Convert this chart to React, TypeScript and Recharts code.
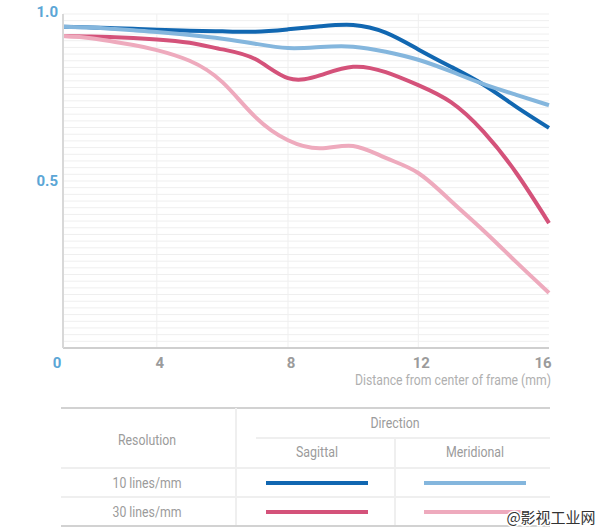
import React from 'react';
import { LineChart, Line, XAxis, YAxis, CartesianGrid, ReferenceLine } from 'recharts';

// distance from centre of frame (mm) and MTF contrast
const distances = [0, 1, 2, 3, 4, 5, 6, 7, 8, 9, 10, 11, 12, 13, 14, 15, 16];
const sagittal10 = [0.962, 0.960, 0.958, 0.956, 0.953, 0.950, 0.948, 0.947, 0.954, 0.963, 0.967, 0.944, 0.894, 0.842, 0.788, 0.722, 0.659];
const meridional10 = [0.962, 0.960, 0.956, 0.951, 0.946, 0.937, 0.926, 0.911, 0.898, 0.901, 0.902, 0.887, 0.863, 0.828, 0.790, 0.758, 0.727];
const sagittal30 = [0.934, 0.933, 0.931, 0.928, 0.924, 0.914, 0.894, 0.865, 0.808, 0.817, 0.842, 0.826, 0.787, 0.736, 0.647, 0.524, 0.374];
const meridional30 = [0.934, 0.929, 0.919, 0.907, 0.892, 0.860, 0.796, 0.692, 0.622, 0.598, 0.605, 0.569, 0.524, 0.44, 0.351, 0.257, 0.165];

const xTicks = [0, 4, 8, 12, 16];
const yTicks = [0.5, 1.0];
const resolutions = ['10 lines/mm', '30 lines/mm'];
const directions = ['Sagittal', 'Meridional'];

const series = [
  { key: 's10', values: sagittal10, color: '#1167b1' },
  { key: 'm10', values: meridional10, color: '#84b6dd' },
  { key: 's30', values: sagittal30, color: '#d4527a' },
  { key: 'm30', values: meridional30, color: '#eeaabd' },
];

const data = distances.map((d, i) => {
  const row: Record<string, number> = { d };
  series.forEach(s => { row[s.key] = s.values[i]; });
  return row;
});

// the printed axis is not evenly spaced: where each tick sits along the axis (0..1)
const tickStops = [0, 0.193, 0.463, 0.731, 1];

function warpScale(dom: number[] = [0, 16], rng: number[] = [0, 1]): any {
  let domain = dom.slice();
  let range = rng.slice();
  const scale: any = (v: number) => {
    let i = 0;
    while (i < xTicks.length - 2 && v > xTicks[i + 1]) i++;
    const t = (v - xTicks[i]) / (xTicks[i + 1] - xTicks[i]);
    const f = tickStops[i] + t * (tickStops[i + 1] - tickStops[i]);
    return range[0] + f * (range[1] - range[0]);
  };
  scale.domain = (d?: number[]) => {
    if (d === undefined) return domain.slice();
    domain = d.slice();
    return scale;
  };
  scale.range = (r?: number[]) => {
    if (r === undefined) return range.slice();
    range = r.slice();
    return scale;
  };
  scale.copy = () => warpScale(domain, range);
  scale.ticks = () => xTicks.slice();
  scale.tickFormat = () => (v: number) => String(v);
  return scale;
}

// fine horizontal rules every 0.02
const gridRows: number[] = [];
for (let v = 0.02; v <= 1.0001; v += 0.02) gridRows.push(Math.round(v * 100) / 100);

const FONT = 'Roboto, "Liberation Sans", sans-serif';
const GRAY = '#9b9b9b';
const BLUE = '#5ba6d6';

const XTick = (props: any) => {
  const { x, y, payload } = props;
  const v = payload.value;
  return (
    <text x={x + (v === 0 ? -6 : v === 16 ? -6 : 3)} y={y + 12} textAnchor="middle"
      fill={v === 0 ? BLUE : GRAY} fontSize={15} fontWeight="bold" fontFamily={FONT}>
      {v}
    </text>
  );
};

const YTick = (props: any) => {
  const { y, payload } = props;
  return (
    <text x={58} y={y + (payload.value === 1 ? 3 : 5)} textAnchor="end"
      fill={BLUE} fontSize={15} fontWeight="bold" fontFamily={FONT}>
      {payload.value.toFixed(1)}
    </text>
  );
};

const XLabel = (props: any) => {
  const { viewBox } = props;
  return (
    <text x={viewBox.x + viewBox.width + 2} y={viewBox.y + 37} textAnchor="end"
      fill="#b0b0b0" fontSize={14} fontFamily={FONT} textLength={196} lengthAdjust="spacingAndGlyphs">
      Distance from center of frame (mm)
    </text>
  );
};

const Cell = ({ x, y, w, children }: any) => (
  <text x={x} y={y} textAnchor="middle" fill={GRAY} fontSize={14}
    textLength={w} lengthAdjust="spacingAndGlyphs">{children}</text>
);

const Legend = () => {
  const left = 61, right = 550, split = 236, mid = 395;
  const top = 8;
  const rowY = [68, 97];
  const textY = [83, 112];
  const cellCenters = [317, 475];
  const dirWidths = [42, 58];
  return (
    <svg width={604} height={132} style={{ position: 'absolute', left: 0, top: 400 }} fontFamily={FONT}>
      <line x1={left} x2={right} y1={top} y2={top} stroke="#d2d2d2" strokeWidth={2} />
      <line x1={split} x2={split} y1={top} y2={126} stroke="#efefef" strokeWidth={2} />
      <line x1={split + 20} x2={right} y1={38} y2={38} stroke="#efefef" strokeWidth={2} />
      <line x1={mid} x2={mid} y1={38} y2={126} stroke="#efefef" strokeWidth={2} />
      {rowY.map(y => (
        <line key={y} x1={left} x2={right} y1={y} y2={y} stroke="#efefef" strokeWidth={2} />
      ))}
      <line x1={left} x2={right} y1={126} y2={126} stroke="#d2d2d2" strokeWidth={2} />
      <Cell x={147} y={45} w={58}>Resolution</Cell>
      <Cell x={395} y={28} w={49}>Direction</Cell>
      {directions.map((d, i) => (
        <Cell key={d} x={cellCenters[i]} y={57} w={dirWidths[i]}>{d}</Cell>
      ))}
      {resolutions.map((r, i) => (
        <Cell key={r} x={147} y={textY[i] + 5} w={69}>{r}</Cell>
      ))}
      {series.map((s, i) => {
        const row = Math.floor(i / 2);
        const cx = cellCenters[i % 2];
        return (
          <line key={s.key} x1={cx - 51} x2={cx + 51} y1={textY[row]} y2={textY[row]} stroke={s.color} strokeWidth={4} />
        );
      })}
      <text x={551} y={123} textAnchor="middle" fill="#333" stroke="#fff" strokeWidth={3} paintOrder="stroke"
        fontSize={15} fontFamily='"Noto Sans CJK SC", sans-serif'>@影视工业网</text>
    </svg>
  );
};

export default function App() {
  return (
    <div style={{ position: 'absolute', left: 0, top: 0, width: 604, height: 532, background: '#fff' }}>
      <LineChart width={604} height={400} data={data} margin={{ top: 14, right: 55, bottom: 12, left: 8 }}>
        <CartesianGrid stroke="#efefef" strokeWidth={1} horizontal={false} verticalValues={[4, 8, 12]} />
        {gridRows.map(v => (
          <ReferenceLine key={v} y={v} stroke="#efefef" strokeWidth={1} />
        ))}
        <XAxis dataKey="d" type="number" domain={[0, 16]} scale={warpScale()} ticks={xTicks}
          height={40} axisLine={{ stroke: '#cfcfcf', strokeWidth: 2 }} tickLine={false}
          tick={<XTick />} interval={0} label={<XLabel />} />
        <YAxis type="number" domain={[0, 1]} ticks={yTicks} width={55}
          axisLine={{ stroke: '#d8d8d8', strokeWidth: 2 }} tickLine={false} tick={<YTick />} />
        {series.map(s => (
          <Line key={s.key} dataKey={s.key} type="natural" stroke={s.color} strokeWidth={4}
            dot={false} activeDot={false} isAnimationActive={false} />
        ))}
      </LineChart>
      <Legend />
    </div>
  );
}
